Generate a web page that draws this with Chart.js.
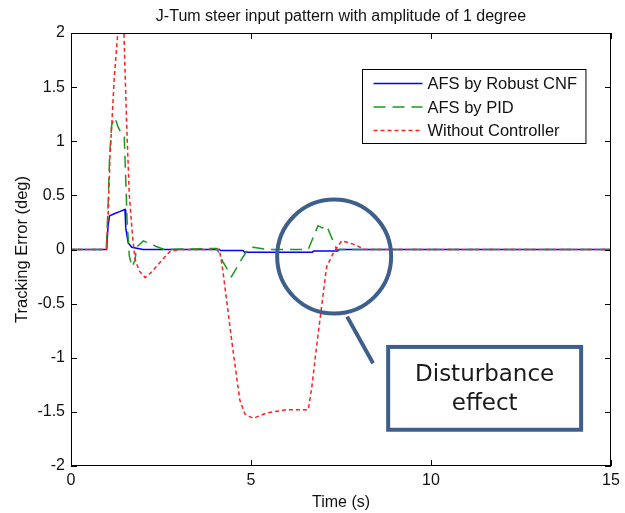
<!DOCTYPE html>
<html lang="en">
<head>
<meta charset="UTF-8">
<title>J-Turn tracking error</title>
<script src="https://cdn.jsdelivr.net/npm/chart.js"></script>
<style>
  html, body { margin: 0; padding: 0; background: #fff; }
  .wrap { width: 625px; height: 513px; position: relative; }
</style>
</head>
<body>
<div class="wrap"><canvas id="chart"></canvas></div>
<script>
// tick values
const xTicks = [0, 5, 10, 15];
const yTicks = [-2, -1.5, -1, -0.5, 0, 0.5, 1, 1.5, 2];

// AFS by Robust CNF
const robustT = [0, 0.99, 1.03, 1.07, 1.2, 1.35, 1.5, 1.52, 1.59, 1.69, 2.0, 4.12, 4.16, 4.78, 4.82, 6.7, 6.74, 7.41, 7.45, 15];
const robustY = [0, 0, 0.22, 0.31, 0.33, 0.35, 0.37, 0.2, 0.06, 0.02, 0, 0, -0.01, -0.01, -0.025, -0.025, -0.015, -0.015, 0, 0];

// AFS by PID
const pidT = [0, 0.98, 1.03, 1.07, 1.13, 1.22, 1.31, 1.43, 1.48, 1.52, 1.56, 1.62, 1.69, 1.78, 1.82, 2.01, 2.15, 2.35, 2.6, 4.05, 4.23, 4.46, 4.74, 4.93, 5.06, 5.44, 6.59, 6.86, 6.98, 7.1, 7.38, 15];
const pidY = [0, 0, 0.4, 0.84, 1.15, 1.22, 1.13, 1.05, 1.04, 0.65, 0.25, -0.06, -0.16, -0.1, 0.02, 0.08, 0.06, 0.03, 0, 0.01, -0.12, -0.25, -0.09, 0.01, 0.02, 0, 0, 0.22, 0.2, 0.22, 0, 0];

// Without Controller
const openT = [0, 0.98, 1.03, 1.08, 1.14, 1.2, 1.3, 1.39, 1.47, 1.51, 1.55, 1.62, 1.71, 1.78, 1.9, 2.06, 2.2, 2.47, 2.74, 3.0, 4.12, 4.2, 4.32, 4.46, 4.56, 4.69, 4.83, 5.06, 5.44, 5.99, 6.59, 6.69, 6.82, 6.96, 7.1, 7.29, 7.52, 7.84, 8.17, 15];
const openY = [0, 0, 0.3, 0.84, 1.2, 1.58, 2.0, 2.35, 2.0, 1.55, 1.12, 0.5, 0.12, -0.09, -0.2, -0.26, -0.22, -0.12, -0.02, 0, 0, -0.15, -0.46, -0.83, -1.08, -1.39, -1.52, -1.56, -1.51, -1.48, -1.48, -1.27, -0.9, -0.53, -0.16, -0.03, 0.08, 0.05, 0, 0];

const seriesNames = ['AFS by Robust CNF', 'AFS by PID', 'Without Controller'];

const titleText = 'J-Tum steer input pattern with amplitude of 1 degree';
const noteLines = ['Disturbance', 'effect'];
const noteColor = '#3e5f8b';
const axisFont = 'Arial, "Liberation Sans", sans-serif';

function toPoints(ts, ys) {
  return ts.map((t, i) => ({ x: t, y: ys[i] }));
}

// title centred over the axes, frame + inward ticks on all four sides
const framePlugin = {
  id: 'frame',
  afterDatasetsDraw(chart) {
    const { ctx, chartArea: { left, right, top, bottom }, scales: { x, y } } = chart;
    ctx.save();
    ctx.strokeStyle = '#000';
    ctx.lineWidth = 1;
    ctx.strokeRect(left + 0.5, top + 0.5, right - left - 1, bottom - top - 1);
    ctx.beginPath();
    xTicks.forEach(v => {
      const px = Math.round(x.getPixelForValue(v)) + 0.5;
      ctx.moveTo(px, bottom); ctx.lineTo(px, bottom - 6);
      ctx.moveTo(px, top); ctx.lineTo(px, top + 6);
    });
    yTicks.forEach(v => {
      const py = Math.round(y.getPixelForValue(v)) + 0.5;
      ctx.moveTo(left, py); ctx.lineTo(left + 6, py);
      ctx.moveTo(right, py); ctx.lineTo(right - 6, py);
    });
    ctx.stroke();

    ctx.fillStyle = '#111';
    ctx.font = '16px ' + axisFont;
    ctx.textAlign = 'center';
    ctx.textBaseline = 'middle';
    ctx.fillText(titleText, (left + right) / 2, 17);
    ctx.restore();
  }
};

// legend box in the upper right of the axes
const legendPlugin = {
  id: 'boxLegend',
  afterDraw(chart) {
    const { ctx, chartArea } = chart;
    const sets = chart.data.datasets;
    ctx.save();
    ctx.font = '16.5px ' + axisFont;
    const textW = Math.max(...seriesNames.map(s => ctx.measureText(s).width));
    const w = 65 + textW + 9;
    const h = 74;
    const bx = Math.round(chartArea.right - 26 - w) + 0.5;
    const by = Math.round(chartArea.top + 36) + 0.5;
    ctx.fillStyle = '#fff';
    ctx.fillRect(bx, by, w, h);
    ctx.strokeStyle = '#000';
    ctx.lineWidth = 1;
    ctx.strokeRect(bx, by, w, h);
    sets.forEach((ds, i) => {
      const ry = by + 14 + i * 23.5;
      ctx.beginPath();
      ctx.strokeStyle = ds.borderColor;
      ctx.lineWidth = ds.borderWidth;
      ctx.setLineDash(ds.borderDash || []);
      ctx.moveTo(bx + 11, ry);
      ctx.lineTo(bx + 60, ry);
      ctx.stroke();
      ctx.setLineDash([]);
      ctx.fillStyle = '#111';
      ctx.textAlign = 'left';
      ctx.textBaseline = 'middle';
      ctx.fillText(ds.label, bx + 65, ry + 1);
    });
    ctx.restore();
  }
};

// circle, pointer and callout box, placed through the scales
const notePlugin = {
  id: 'note',
  afterDraw(chart) {
    const { ctx, scales: { x, y } } = chart;
    ctx.save();
    ctx.strokeStyle = noteColor;
    ctx.lineWidth = 4;
    ctx.beginPath();
    ctx.arc(x.getPixelForValue(7.31), y.getPixelForValue(-0.065), 57, 0, Math.PI * 2);
    ctx.stroke();

    ctx.beginPath();
    ctx.moveTo(x.getPixelForValue(7.67), y.getPixelForValue(-0.62));
    ctx.lineTo(x.getPixelForValue(8.39), y.getPixelForValue(-1.05));
    ctx.stroke();

    const bl = x.getPixelForValue(8.81), br = x.getPixelForValue(14.17);
    const bt = y.getPixelForValue(-0.9), bb = y.getPixelForValue(-1.665);
    ctx.fillStyle = '#fff';
    ctx.fillRect(bl, bt, br - bl, bb - bt);
    ctx.strokeRect(bl, bt, br - bl, bb - bt);

    ctx.fillStyle = '#1a1a1a';
    ctx.font = '23px "DejaVu Sans", sans-serif';
    ctx.textAlign = 'center';
    ctx.textBaseline = 'middle';
    const cx = (bl + br) / 2;
    ctx.fillText(noteLines[0], cx, bt + 28);
    ctx.fillText(noteLines[1], cx, bt + 57);
    ctx.restore();
  }
};

new Chart(document.getElementById('chart'), {
  type: 'line',
  data: {
    datasets: [
      {
        label: seriesNames[0],
        data: toPoints(robustT, robustY),
        borderColor: '#0000ff',
        borderWidth: 1.5,
        order: 3
      },
      {
        label: seriesNames[1],
        data: toPoints(pidT, pidY),
        borderColor: '#1a9a1a',
        borderWidth: 1.5,
        borderDash: [12, 7],
        order: 2
      },
      {
        label: seriesNames[2],
        data: toPoints(openT, openY),
        borderColor: '#ff2020',
        borderWidth: 1.5,
        borderDash: [4, 3],
        order: 1
      }
    ]
  },
  options: {
    responsive: true,
    maintainAspectRatio: false,
    animation: false,
    layout: { padding: { left: 0, right: 14, top: 33, bottom: 0 } },
    elements: {
      point: { radius: 0 },
      line: { tension: 0, fill: false }
    },
    plugins: {
      legend: { display: false },
      tooltip: { enabled: false },
      title: { display: false }
    },
    scales: {
      x: {
        type: 'linear',
        min: 0,
        max: 15,
        afterBuildTicks: s => { s.ticks = xTicks.map(v => ({ value: v })); },
        afterFit: s => { s.height = 47; },
        grid: { display: false, drawTicks: false },
        border: { display: false },
        ticks: {
          padding: 5,
          color: '#111',
          maxRotation: 0,
          font: { family: axisFont, size: 16 },
          callback: v => String(v)
        },
        title: {
          display: true,
          text: 'Time (s)',
          color: '#111',
          font: { family: axisFont, size: 16 },
          padding: { top: 0, bottom: 1 }
        }
      },
      y: {
        min: -2,
        max: 2,
        afterBuildTicks: s => { s.ticks = yTicks.map(v => ({ value: v })); },
        afterFit: s => { s.width = 71; },
        grid: { display: false, drawTicks: false },
        border: { display: false },
        ticks: {
          padding: 6,
          color: '#111',
          font: { family: axisFont, size: 16 },
          callback: v => String(v)
        },
        title: {
          display: true,
          text: 'Tracking Error (deg)',
          color: '#111',
          font: { family: axisFont, size: 16.5 },
          padding: { top: 13, bottom: 0 }
        }
      }
    }
  },
  plugins: [framePlugin, legendPlugin, notePlugin]
});
</script>
</body>
</html>
